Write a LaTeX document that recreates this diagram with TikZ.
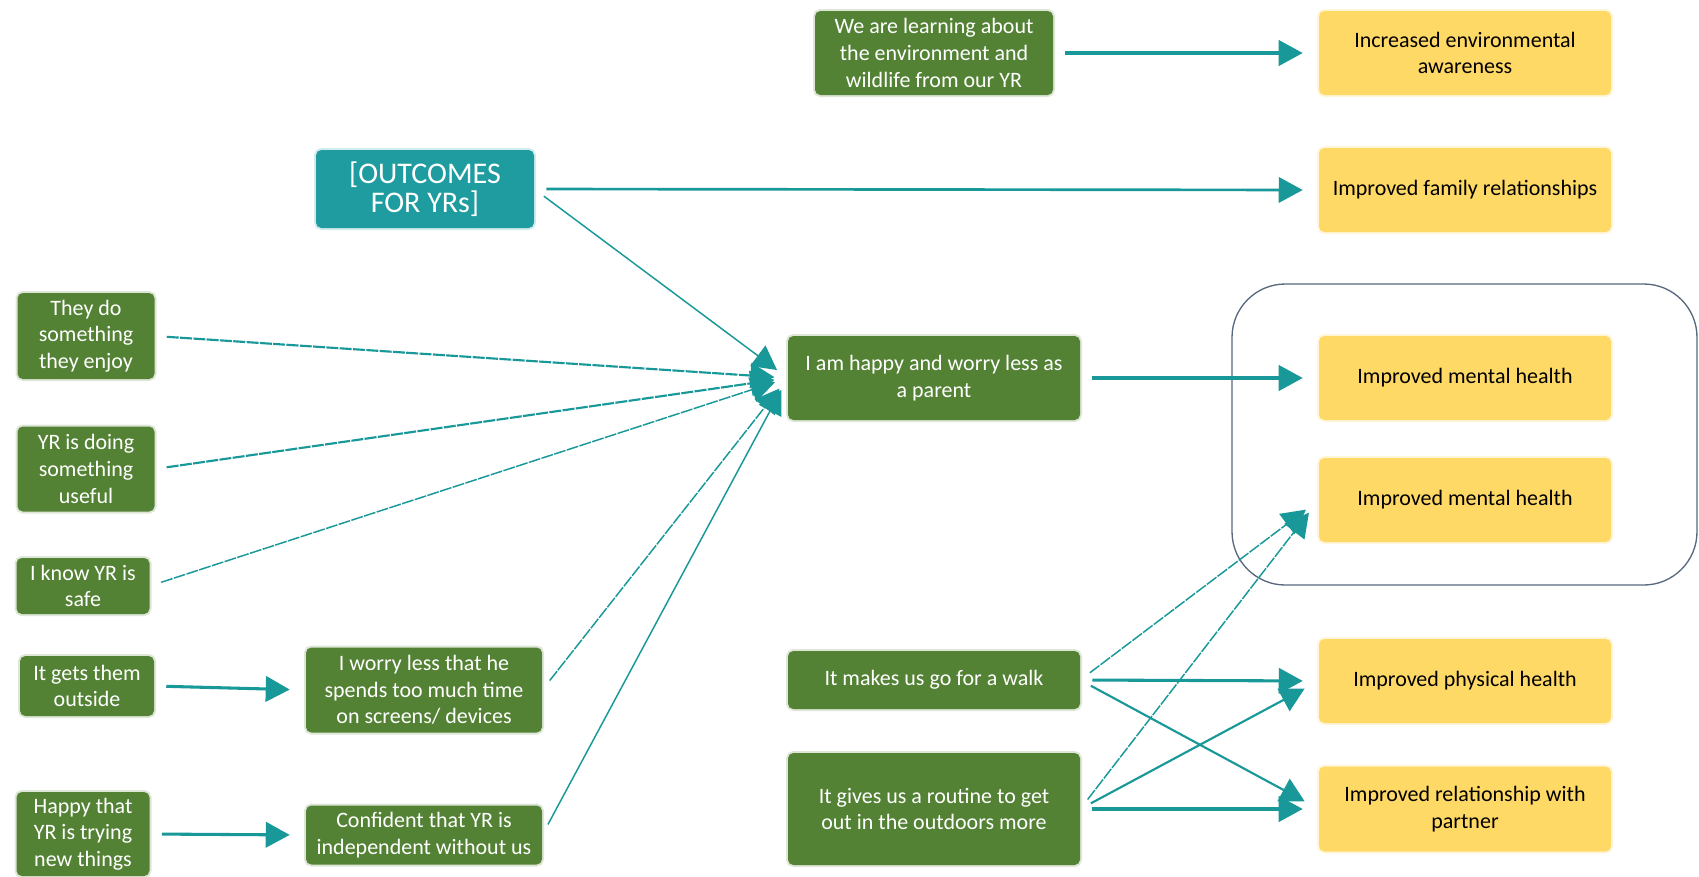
\documentclass[tikz,border=0pt]{standalone}
\usepackage{fontspec}
\setmainfont{Carlito}
\usetikzlibrary{arrows.meta}
\definecolor{grn}{RGB}{84,130,53}
\definecolor{tl}{RGB}{24,152,152}
\definecolor{tlbox}{RGB}{30,156,160}
\definecolor{ylw}{RGB}{255,217,102}
\definecolor{grp}{RGB}{88,104,126}
\newcommand\boxfont{\fontsize{16.5}{20}\selectfont}
\newcommand\bigboxfont{\fontsize{22.5}{21.5}\selectfont}
\begin{document}
\begin{tikzpicture}[x=0.75pt,y=-0.75pt,
  sz/.style 2 args={minimum width=#1*0.75pt, minimum height=#2*0.75pt},
  base/.style={rounded corners=4pt, inner sep=0pt, align=center, font=\boxfont},
  gbox/.style={base, fill=grn, text=white, preaction={draw=grn, draw opacity=0.2, line width=3pt}},
  ybox/.style={base, fill=ylw, text=black, preaction={draw=ylw, draw opacity=0.25, line width=3pt}},
  tbox/.style={base, fill=tlbox, text=white, font=\bigboxfont, preaction={draw=tlbox, draw opacity=0.2, line width=3pt}},
  conn/.style={draw=tl, -{Triangle[length=18pt,width=19pt]}, shorten <=9pt, shorten >=12pt},
  heavy/.style={conn, line width=2.3pt},
  light/.style={conn, line width=1.6pt},
  lighter/.style={conn, line width=1.1pt},
  dashline/.style={dash pattern=on 9pt off 1pt},
  toparent/.style={shorten >=10pt}
]
\useasboundingbox (0,0) rectangle (1699,876);

% group outline
\draw[grp, line width=1pt, rounded corners=40pt] (1232,284) rectangle (1697,585);

% nodes
\node[gbox, sz={238}{84}] (learn) at (934,53) {We are learning about\\the environment and\\wildlife from our YR};
\node[ybox, sz={292}{84}] (env) at (1465,53) {Increased environmental\\awareness};
\node[tbox, sz={218}{78}] (outc) at (425,189) {[OUTCOMES\\FOR YRs]};
\node[ybox, sz={292}{84}] (family) at (1465,190) {Improved family relationships};

\node[gbox, sz={137}{86}] (enjoy) at (86,336) {They do\\something\\they enjoy};
\node[gbox, sz={137}{85}] (useful) at (86,469) {YR is doing\\something\\useful};
\node[gbox, sz={133}{56}] (safe) at (83,586) {I know YR is\\safe};
\node[gbox, sz={134}{60}] (outside) at (87,686) {It gets them\\outside};
\node[gbox, sz={133}{84}] (trying) at (83,834) {Happy that\\YR is trying\\new things};

\node[gbox, sz={236}{85}] (worry) at (424,690) {I worry less that he\\spends too much time\\on screens/ devices};
\node[gbox, sz={236}{59}] (conf) at (424,835) {Confident that YR is\\independent without us};

\node[gbox, sz={292}{84}] (parent) at (934,378) {I am happy and worry less as\\a parent};
\node[ybox, sz={292}{84}] (mental1) at (1465,378) {Improved mental health};
\node[ybox, sz={292}{84}] (mental2) at (1465,500) {Improved mental health};

\node[gbox, sz={292}{58}] (walk) at (934,680) {It makes us go for a walk};
\node[gbox, sz={292}{112}] (routine) at (934,809) {It gives us a routine to get\\out in the outdoors more};
\node[ybox, sz={292}{84}] (physical) at (1465,681) {Improved physical health};
\node[ybox, sz={292}{85}] (partner) at (1465,809) {Improved relationship with\\partner};

% connectors
\draw[heavy] (learn.east) -- (env.west);
\draw[conn, line width=2pt] (outc.east) -- (family.west);
\draw[lighter, toparent] (outc.east) -- (parent.west);
\draw[light, dashline, toparent] (enjoy.east) -- (parent.west);
\draw[light, dashline, toparent] (useful.east) -- (parent.west);
\draw[lighter, dashline, toparent] (safe.east) -- (parent.west);
\draw[lighter, dashline, toparent] (worry.east) -- (parent.west);
\draw[lighter, toparent] (conf.east) -- (parent.west);
\draw[heavy] (outside.east) -- (worry.west);
\draw[heavy] (trying.east) -- (conf.west);
\draw[heavy] (parent.east) -- (mental1.west);

\draw[lighter, dashline] (walk.east) -- (mental2.west);
\draw[heavy] (walk.east) -- (physical.west);
\draw[light] (walk.east) -- (partner.west);
\draw[lighter, dashline] (routine.east) -- (mental2.west);
\draw[light] (routine.east) -- (physical.west);
\draw[heavy] (routine.east) -- (partner.west);
\end{tikzpicture}
\end{document}
